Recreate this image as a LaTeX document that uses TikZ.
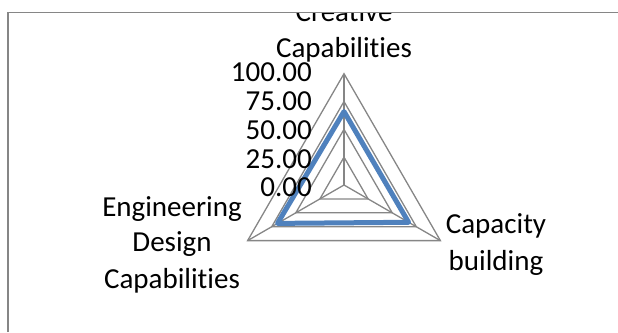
\documentclass[tikz,border=0pt]{standalone}
\usepackage{fontspec}
\setmainfont{Carlito}[Ligatures=NoCommon]
\definecolor{gridgray}{RGB}{134,134,134}
\definecolor{seriesblue}{RGB}{79,129,189}
\tikzset{
  grid/.style = {draw=gridgray, line width=1.3pt, line join=miter},
  series/.style = {draw=seriesblue, line width=5pt, line join=round},
  frame/.style = {draw=gridgray, line width=1.5pt},
  catlabel/.style = {font=\fontsize{29}{36}\selectfont, align=center, inner sep=0pt},
  ticklabel/.style = {font=\fontsize{29}{29}\selectfont, anchor=base east, inner sep=0pt}
}
\newcommand{\rad}{1.113}

\begin{document}
\begin{tikzpicture}[x=1pt,y=1pt]
  \useasboundingbox (0,0) rectangle (618,332);
  \begin{scope}[shift={(344,147)}]
    \coordinate (c) at (0,0);
    \coordinate (top) at (90:100*\rad);
    \coordinate (right) at (-30:100*\rad);
    \coordinate (left) at (210:100*\rad);
    % rings and spokes
    \foreach \v in {25,50,75,100}
      \draw[grid] (90:\v*\rad) -- (-30:\v*\rad) -- (210:\v*\rad) -- cycle;
    \draw[grid] (c) -- (top);
    \draw[grid] (c) -- (right);
    \draw[grid] (c) -- (left);
    % data
    \draw[series] (90:66*\rad) -- (-30:67*\rad) -- (210:69*\rad) -- cycle;
    % tick labels
    \foreach \v in {0,25,50,75,100}
      \node[ticklabel] (t\v) at (-32,{1.148*\v-11.8}) {\v.00};
  \end{scope}
  \begin{scope}
    \clip (0,0) rectangle (618,319.5);
    \node[catlabel, anchor=base] (creative) at (344,274) {Creative\\Capabilities};
  \end{scope}
  \node[catlabel, anchor=base] (capacity) at (496,62) {Capacity\\building};
  \node[catlabel, anchor=base] (engdesign) at (172,44) {Engineering\\Design\\Capabilities};
  \draw[frame] (8,0) |- (618,319.7);
\end{tikzpicture}
\end{document}
